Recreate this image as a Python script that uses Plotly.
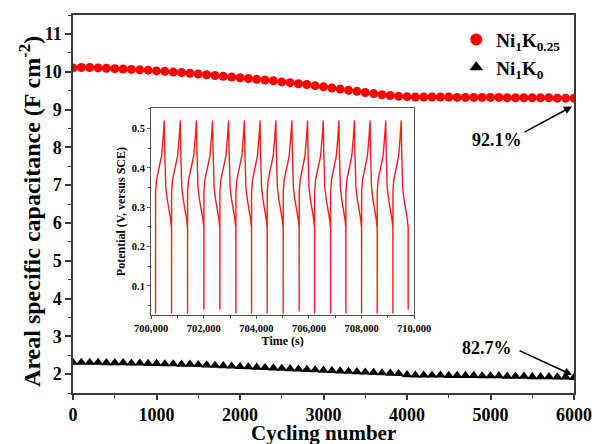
import plotly.graph_objects as go

# ---- cycling stability (areal capacitance, F cm^-2), one point every 100 cycles ----
cycles = list(range(0, 6001, 100))

cap_ni1k025 = [
    10.10, 10.11, 10.11, 10.10, 10.09, 10.08, 10.07, 10.06, 10.05, 10.04,
    10.02, 10.01, 9.99, 9.98, 9.96, 9.94, 9.92, 9.90, 9.88, 9.86,
    9.84, 9.82, 9.80, 9.78, 9.76, 9.73, 9.71, 9.68, 9.66, 9.63,
    9.60, 9.57, 9.54, 9.51, 9.48, 9.45, 9.42, 9.39, 9.37, 9.35,
    9.34, 9.33, 9.33, 9.33, 9.33, 9.33, 9.32, 9.32, 9.32, 9.32,
    9.32, 9.32, 9.31, 9.31, 9.31, 9.31, 9.31, 9.31, 9.30, 9.30,
    9.30,
]

cap_ni1k0 = [
    2.31, 2.31, 2.31, 2.31, 2.30, 2.30, 2.30, 2.29, 2.29, 2.28,
    2.28, 2.27, 2.27, 2.26, 2.26, 2.25, 2.24, 2.23, 2.22, 2.21,
    2.20, 2.19, 2.18, 2.17, 2.16, 2.15, 2.14, 2.13, 2.12, 2.11,
    2.10, 2.09, 2.08, 2.07, 2.06, 2.05, 2.04, 2.03, 2.02, 2.01,
    1.98, 1.97, 1.97, 1.97, 1.97, 1.96, 1.96, 1.96, 1.96, 1.95,
    1.95, 1.95, 1.94, 1.94, 1.94, 1.93, 1.93, 1.93, 1.92, 1.92,
    1.91,
]

retention_labels = ["92.1%", "82.7%"]

# ---- inset: galvanostatic charge/discharge near the end of cycling ----
# times (s) at which each discharge ends with the sharp drop
drop_times = [700167, 700776, 701384, 702004, 702612, 703221, 703817, 704411,
              705019, 705627, 706213, 706821, 707403, 708000, 708593, 709190,
              709772]
# lowest potential reached at each drop (V vs SCE)
drop_floor = [0.03, 0.03, 0.03, 0.04, 0.04, 0.03, 0.03, 0.03,
              0.03, 0.035, 0.03, 0.03, 0.03, 0.03, 0.03, 0.03,
              0.04]
# shape of one charge/discharge cycle: fraction of the cycle and potential (V)
cycle_phase = [0.003, 0.065, 0.21, 0.375, 0.48, 0.545, 0.57, 0.64, 0.73, 0.83, 0.94, 0.99]
cycle_potential = [0.34, 0.37, 0.395, 0.43, 0.48, 0.52, 0.45, 0.35, 0.32, 0.30, 0.27, 0.25]

gcd_t, gcd_v = [], []
for i, t0 in enumerate(drop_times):
    gcd_t.append(t0)
    gcd_v.append(drop_floor[i])
    if i + 1 < len(drop_times):
        span = drop_times[i + 1] - t0
        for ph, v in zip(cycle_phase, cycle_potential):
            gcd_t.append(t0 + ph * span)
            gcd_v.append(v)
        gcd_t.append(drop_times[i + 1])
        gcd_v.append(cycle_potential[-1])

FONT = "Liberation Serif"
AXIS_COLOR = "#3a3a3a"

fig = go.Figure()

fig.add_trace(go.Scatter(
    x=cycles, y=cap_ni1k025, mode="markers",
    name="Ni<sub>1</sub>K<sub>0.25</sub>",
    marker=dict(symbol="circle", size=9, color="#ff0000", line=dict(width=0)),
))
fig.add_trace(go.Scatter(
    x=cycles, y=cap_ni1k0, mode="markers",
    name="Ni<sub>1</sub>K<sub>0</sub>",
    marker=dict(symbol="triangle-up", size=9.5, color="#000000", line=dict(width=0)),
))
fig.add_trace(go.Scatter(
    x=gcd_t, y=gcd_v, mode="lines", showlegend=False,
    line=dict(color="#ff1a1a", width=1.4),
    xaxis="x2", yaxis="y2",
))

main_tick = dict(family=FONT, size=18, color="#000", weight="bold")
inset_tick = dict(family=FONT, size=10.5, color="#000", weight="bold")

fig.update_layout(
    width=594, height=444,
    margin=dict(l=73, r=20, t=15, b=51),
    paper_bgcolor="white", plot_bgcolor="white",
    font=dict(family=FONT, color="#000"),
    showlegend=True,
    legend=dict(
        x=0.765, y=0.985, xanchor="left", yanchor="top",
        bgcolor="rgba(0,0,0,0)", borderwidth=0,
        font=dict(family=FONT, size=19, color="#000", weight="bold"),
        itemsizing="constant",
    ),
    xaxis=dict(
        range=[0, 6000], tick0=0, dtick=1000, automargin=False,
        showgrid=False, zeroline=False,
        showline=True, linecolor=AXIS_COLOR, linewidth=1.5, mirror=True,
        ticks="outside", ticklen=5, tickwidth=1.5, tickcolor=AXIS_COLOR,
        minor=dict(ticks="outside", dtick=500, ticklen=3, tickwidth=1.2, tickcolor=AXIS_COLOR),
        tickfont=main_tick,
    ),
    yaxis=dict(
        range=[1.5, 11.5], tick0=2, dtick=1, automargin=False,
        showgrid=False, zeroline=False,
        showline=True, linecolor=AXIS_COLOR, linewidth=1.5, mirror=True,
        ticks="outside", ticklen=6, tickwidth=1.5, tickcolor=AXIS_COLOR,
        minor=dict(ticks="outside", dtick=0.5, ticklen=3, tickwidth=1.2, tickcolor=AXIS_COLOR),
        tickfont=main_tick,
    ),
    xaxis2=dict(
        domain=[0.156, 0.681], anchor="y2", automargin=False,
        range=[700000, 710000], tick0=700000, dtick=2000, tickformat=",",
        showgrid=False, zeroline=False,
        showline=True, linecolor="#555", linewidth=1.2, mirror=True,
        ticks="outside", ticklen=3, tickwidth=1, tickcolor="#555",
        minor=dict(ticks="outside", dtick=1000, ticklen=2, tickwidth=1, tickcolor="#555"),
        tickfont=inset_tick,
        title=dict(text="<b>Time (s)</b>", font=dict(family=FONT, size=12, color="#000"), standoff=3),
    ),
    yaxis2=dict(
        domain=[0.206, 0.754], anchor="x2", automargin=False,
        range=[0.026, 0.552], tick0=0.1, dtick=0.1,
        showgrid=False, zeroline=False,
        showline=True, linecolor="#555", linewidth=1.2, mirror=True,
        ticks="outside", ticklen=3, tickwidth=1, tickcolor="#555",
        minor=dict(ticks="outside", dtick=0.05, ticklen=2, tickwidth=1, tickcolor="#555"),
        tickfont=inset_tick,
        title=dict(text="<b>Potential (V, versus SCE)</b>", font=dict(family=FONT, size=12, color="#000"), standoff=3),
    ),
)

# main axis titles
fig.add_annotation(x=0.5, y=-0.1058, xref="paper", yref="paper", xanchor="center", yanchor="middle",
                   text="<b>Cycling number</b>", showarrow=False,
                   font=dict(family=FONT, size=21, color="#000"))
fig.add_annotation(x=-0.0858, y=0.479, xref="paper", yref="paper", xanchor="center", yanchor="middle",
                   text="<b>Areal specific capacitance (F cm<sup>-2</sup>)</b>", textangle=-90,
                   showarrow=False, font=dict(family=FONT, size=24, color="#000"))

# retention labels with arrows pointing at the final points
text_font = dict(family=FONT, size=18, color="#000", weight="bold")
fig.add_annotation(x=5078, y=8.19, xref="x", yref="y", text=retention_labels[0],
                   showarrow=False, font=text_font)
fig.add_annotation(x=5976, y=9.08, ax=5389, ay=8.38, xref="x", yref="y", axref="x", ayref="y",
                   text="", showarrow=True, arrowhead=2, arrowsize=1, arrowwidth=1.6, arrowcolor="#000")
fig.add_annotation(x=4958, y=2.69, xref="x", yref="y", text=retention_labels[1],
                   showarrow=False, font=text_font)
fig.add_annotation(x=5976, y=1.98, ax=5329, ay=2.64, xref="x", yref="y", axref="x", ayref="y",
                   text="", showarrow=True, arrowhead=2, arrowsize=1, arrowwidth=1.6, arrowcolor="#000")

fig.write_html("out.html")
